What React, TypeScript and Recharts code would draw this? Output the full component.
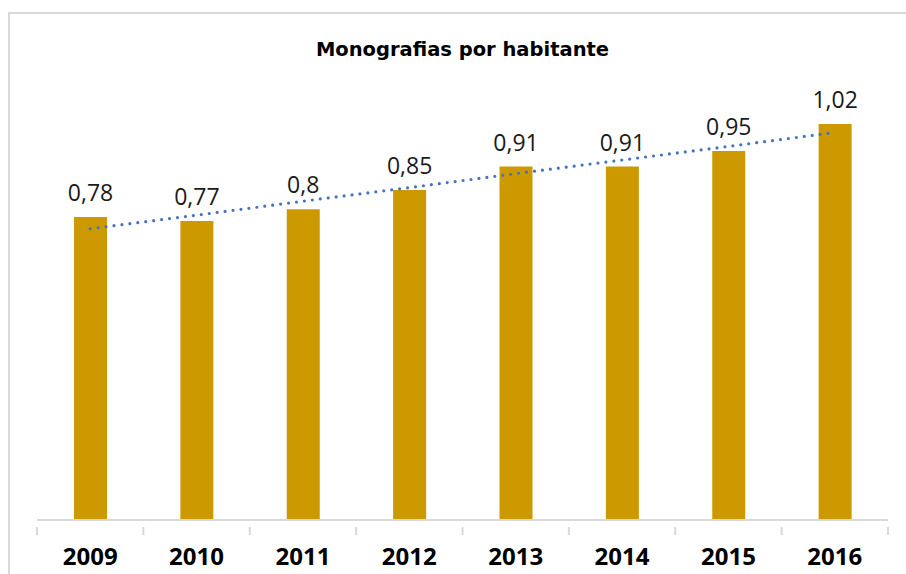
import { ComposedChart, Bar, Line, XAxis, YAxis, LabelList } from 'recharts';

const years = ['2009', '2010', '2011', '2012', '2013', '2014', '2015', '2016'];
const monografias = [0.78, 0.77, 0.8, 0.85, 0.91, 0.91, 0.95, 1.02];
// linear trend
const trend = [0.75, 0.785, 0.821, 0.856, 0.892, 0.927, 0.962, 0.998];

const data = years.map((year, i) => ({
  year,
  value: monografias[i],
  trend: trend[i],
}));

const AXIS_GREY = '#d9d9d9';

function YearTick(props: any) {
  const { x, y, payload, index, visibleTicksCount, width } = props;
  const half = payload?.offset ?? width / visibleTicksCount / 2;
  const last = index === visibleTicksCount - 1;
  return (
    <g>
      <line x1={x - half} x2={x - half} y1={y - 1} y2={y + 7} stroke={AXIS_GREY} strokeWidth={2} />
      {last && <line x1={x + half} x2={x + half} y1={y - 1} y2={y + 7} stroke={AXIS_GREY} strokeWidth={2} />}
      <text
        x={x}
        y={y + 37}
        textAnchor="middle"
        fill="#000"
        style={{ fontFamily: '"Open Sans", sans-serif', fontSize: 24, fontWeight: 700 }}
      >
        {payload.value}
      </text>
    </g>
  );
}

export default function App() {
  return (
    <div style={{ position: 'absolute', left: 0, top: 0, width: 906, height: 574, overflow: 'hidden', background: '#fff' }}>
      <div
        style={{
          position: 'absolute',
          left: 8,
          top: 12,
          width: 920,
          height: 600,
          border: `2px solid ${AXIS_GREY}`,
          boxSizing: 'border-box',
        }}
      />
      <div
        style={{
          position: 'absolute',
          left: 37,
          width: 851,
          top: 40,
          lineHeight: '20px',
          textAlign: 'center',
          fontFamily: '"DejaVu Sans", sans-serif',
          fontWeight: 700,
          fontSize: 19.5,
          color: '#000',
        }}
      >
        Monografias por habitante
      </div>
      <div style={{ position: 'absolute', left: 0, top: 0 }}>
        <ComposedChart width={906} height={574} data={data} margin={{ top: 54, right: 18, bottom: 0, left: 37 }}>
          <XAxis
            dataKey="year"
            height={54}
            axisLine={{ stroke: AXIS_GREY, strokeWidth: 2 }}
            tickLine={false}
            tick={<YearTick />}
            interval={0}
          />
          <YAxis hide domain={[0, 1.2]} />
          <Bar dataKey="value" fill="#CC9900" barSize={33} isAnimationActive={false}>
            <LabelList
              dataKey="value"
              position="top"
              offset={16}
              formatter={(v: any) => String(v).replace('.', ',')}
              style={{ fontFamily: '"Open Sans", sans-serif', fontSize: 23, fill: '#1a1a1a' }}
            />
          </Bar>
          <Line
            dataKey="trend"
            type="linear"
            stroke="#4472C4"
            strokeWidth={3.2}
            strokeDasharray="0 8"
            strokeLinecap="round"
            dot={false}
            isAnimationActive={false}
          />
        </ComposedChart>
      </div>
    </div>
  );
}
